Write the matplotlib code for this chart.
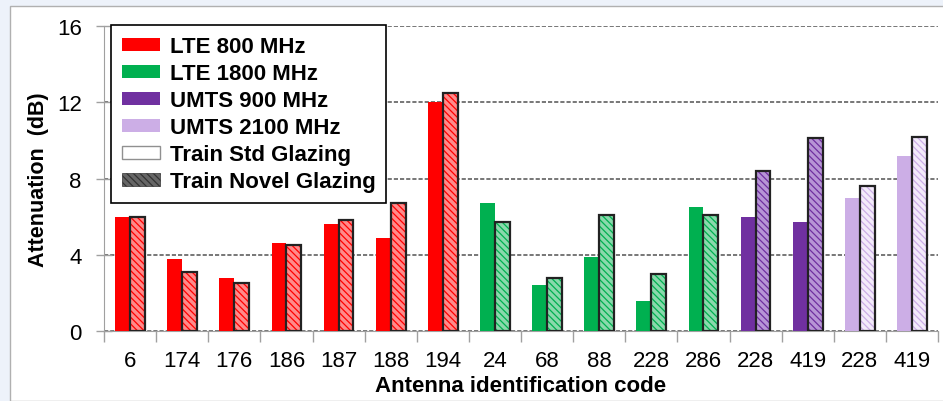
import matplotlib.pyplot as plt
import numpy as np
from matplotlib.patches import Patch, Rectangle

plt.rcParams['font.family'] = ['Liberation Sans', 'DejaVu Sans']
plt.rcParams['hatch.linewidth'] = 0.9

# antenna codes and attenuation values (dB)
codes = ['6', '174', '176', '186', '187', '188', '194', '24', '68', '88',
         '228', '286', '228', '419', '228', '419']
std_glazing = [6.0, 3.8, 2.8, 4.6, 5.6, 4.9, 12.0, 6.7, 2.4, 3.9,
               1.6, 6.5, 6.0, 5.7, 7.0, 9.2]
novel_glazing = [6.0, 3.1, 2.5, 4.5, 5.8, 6.7, 12.5, 5.7, 2.8, 6.1,
                 3.0, 6.1, 8.4, 10.1, 7.6, 10.2]
band = ['LTE 800 MHz'] * 7 + ['LTE 1800 MHz'] * 5 + ['UMTS 900 MHz'] * 2 + ['UMTS 2100 MHz'] * 2

band_colors = {
    'LTE 800 MHz': ('#ff0000', '#ff8a8a'),
    'LTE 1800 MHz': ('#00b050', '#8ad9ac'),
    'UMTS 900 MHz': ('#7030a0', '#b795d6'),
    'UMTS 2100 MHz': ('#ccaee6', '#f3ebfa'),
}

fig = plt.figure(figsize=(9.43, 4.02), dpi=100, facecolor='#edf2fa')
# white panel behind the chart
fig.patches.append(Rectangle((10 / 943, 0), 1, 1 - 7 / 402, transform=fig.transFigure,
                             facecolor='white', edgecolor='#b0b0b0', linewidth=1.0, zorder=-5))
ax = fig.add_axes([0.1103, 0.1741, 0.8844, 0.7587])
ax.set_facecolor('none')

x = np.arange(len(codes)) + 0.5
w = 0.285
hatch = '\\\\\\\\\\'
for i in range(len(codes)):
    main, light = band_colors[band[i]]
    ax.bar(x[i] - w / 2, std_glazing[i], w, color=main, edgecolor='none', zorder=3)
    ax.bar(x[i] + w / 2, novel_glazing[i], w, color=light, edgecolor=main,
           hatch=hatch, linewidth=0, zorder=3)
    ax.bar(x[i] + w / 2, novel_glazing[i], w, fill=False, edgecolor='#222222',
           linewidth=1.6, zorder=4)

ax.set_xlim(0, len(codes))
ax.set_ylim(0, 16)
ax.set_yticks([0, 4, 8, 12, 16])
ax.yaxis.grid(True, linestyle=(0, (2.5, 1.2)), color='#606060', linewidth=1.2, zorder=1)
ax.set_axisbelow(True)

ax.set_xticks(np.arange(len(codes) + 1))
ax.set_xticklabels([])
ax.set_xticks(x, minor=True)
ax.set_xticklabels(codes, minor=True)
ax.tick_params(axis='x', which='major', length=8, color='#a0a0a0', width=1)
ax.tick_params(axis='x', which='minor', length=0, labelsize=16, pad=13.5)
ax.tick_params(axis='y', direction='inout', length=12, color='#a0a0a0', width=1,
               labelsize=16, pad=10)

for s in ['top', 'right']:
    ax.spines[s].set_visible(False)
ax.spines['left'].set_color('#a0a0a0')
ax.spines['bottom'].set_color('#a0a0a0')

ax.set_xlabel('Antenna identification code', fontsize=16, fontweight='bold', labelpad=3)
ax.set_ylabel('Attenuation  (dB)', fontsize=15.5, fontweight='bold', labelpad=6)

handles = [Patch(facecolor=band_colors[b][0], edgecolor='none') for b in band_colors]
handles.append(Patch(facecolor='white', edgecolor='#909090'))
handles.append(Patch(facecolor='#666666', edgecolor='#333333', hatch=hatch, linewidth=0.5))
labels = list(band_colors) + ['Train Std Glazing', 'Train Novel Glazing']
leg = ax.legend(handles, labels, loc='upper left', bbox_to_anchor=(0.008, 1.003),
                borderaxespad=0, fancybox=False, edgecolor='black', framealpha=1,
                prop={'weight': 'bold', 'size': 16}, handlelength=1.7, handleheight=0.55,
                handletextpad=0.45, labelspacing=0.27, borderpad=0.5)
leg.get_frame().set_linewidth(1.2)
leg.set_zorder(5)

fig.savefig('out.png', dpi=100, facecolor=fig.get_facecolor())
